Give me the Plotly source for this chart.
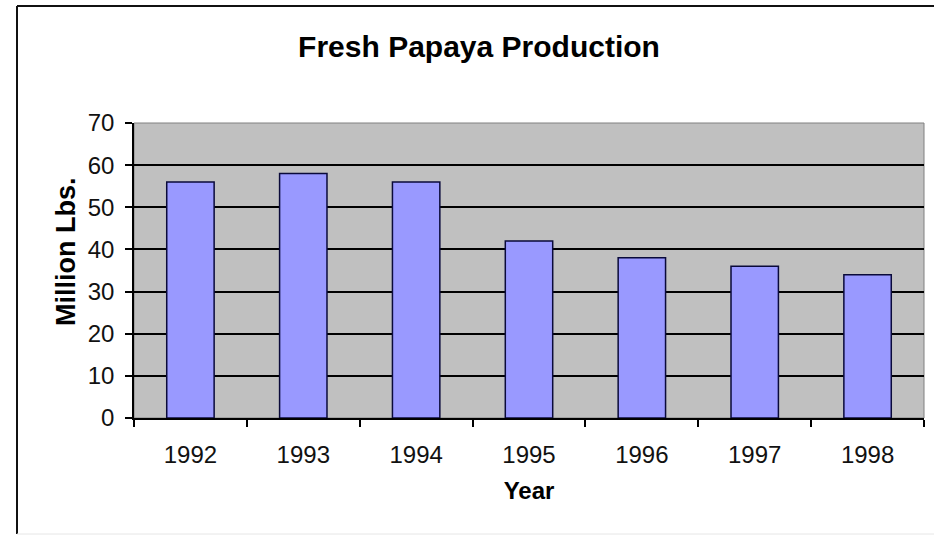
import plotly.graph_objects as go

years = ["1992", "1993", "1994", "1995", "1996", "1997", "1998"]
production = [56, 58, 56, 42, 38, 36, 34]
y_ticks = [0, 10, 20, 30, 40, 50, 60, 70]

FONT = "Liberation Sans, Arial, sans-serif"
W, H = 934, 538
L, R, T, B = 134, 10, 123, 120
pw, ph = W - L - R, H - T - B

def px_x(x):
    return (x - L) / pw

def px_y(y):
    return (H - B - y) / ph

fig = go.Figure()
fig.add_trace(go.Bar(
    x=years, y=production,
    marker=dict(color="#9999FF", line=dict(color="#0a0a3a", width=1.5)),
    hoverinfo="x+y",
))

shapes = [
    dict(type="rect", xref="paper", yref="paper", x0=0, x1=1, y0=0, y1=1,
         line=dict(color="#808080", width=1), layer="below"),
    dict(type="line", xref="paper", yref="paper", x0=px_x(17), x1=px_x(17),
         y0=px_y(534), y1=px_y(6), line=dict(color="#111111", width=2)),
    dict(type="line", xref="paper", yref="paper", x0=px_x(17), x1=px_x(945),
         y0=px_y(6), y1=px_y(6), line=dict(color="#111111", width=2)),
    dict(type="line", xref="paper", yref="paper", x0=px_x(17), x1=px_x(945),
         y0=px_y(534), y1=px_y(534), line=dict(color="#e6e6e6", width=1)),
]

annotations = [
    dict(text="<b>Million Lbs.</b>", textangle=-90, showarrow=False,
         xref="paper", yref="paper", x=px_x(66), y=px_y(252),
         xanchor="center", yanchor="middle",
         font=dict(size=27, family=FONT, color="black")),
]

fig.update_layout(
    width=W, height=H,
    margin=dict(l=L, r=R, t=T, b=B),
    paper_bgcolor="white",
    plot_bgcolor="#C0C0C0",
    bargap=0.58,
    showlegend=False,
    font=dict(family=FONT, color="black"),
    title=dict(text="<b>Fresh Papaya Production</b>", font=dict(size=30, family=FONT, color="black"),
               x=479 / W, xref="container", xanchor="center",
               y=1 - 46 / H, yref="container", yanchor="middle"),
    shapes=shapes,
    annotations=annotations,
    xaxis=dict(
        showline=True, linecolor="black", linewidth=1.5,
        ticks="outside", tickson="boundaries", ticklen=7, tickcolor="black", tickwidth=1.5,
        tickfont=dict(size=24, family=FONT, color="#111111"),
        ticklabelstandoff=14,
        showgrid=False,
        title=dict(text="<b>Year</b>", font=dict(size=24, family=FONT), standoff=16),
    ),
    yaxis=dict(
        range=[0, 70], tickvals=y_ticks,
        showline=True, linecolor="black", linewidth=1.5,
        ticks="outside", ticklen=7, tickcolor="black", tickwidth=1.5,
        tickfont=dict(size=24, family=FONT, color="#111111"),
        showgrid=True, gridcolor="black", gridwidth=1.5,
        zeroline=False,
        ticklabelstandoff=6,
    ),
)

fig.write_html("out.html", config={"displayModeBar": False},
               post_script="document.body.style.margin='0';")
